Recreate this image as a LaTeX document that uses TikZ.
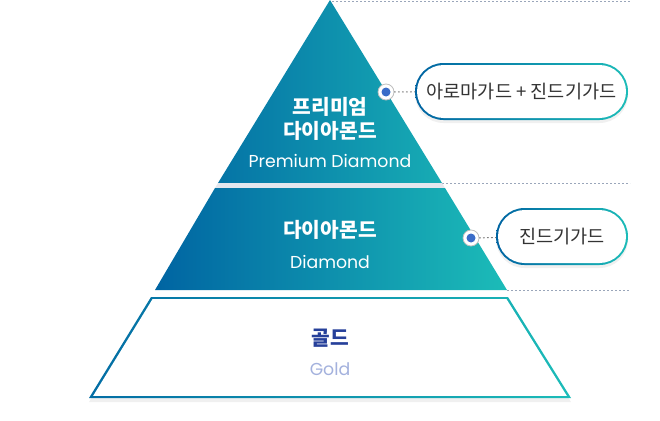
\documentclass[tikz,border=0pt]{standalone}
\usepackage{fontspec}
\newfontfamily\kr{Noto Sans CJK KR}
\newfontfamily\en{Poppins}
\usepackage{tikz}
\usetikzlibrary{
  positioning,
  calc,
  shadows
}
\definecolor{deepblue}{HTML}{0064A2}
\definecolor{aqua}{HTML}{1CBCB8}
\definecolor{topleft}{HTML}{0574A6}
\definecolor{topright}{HTML}{17ACB4}
\definecolor{guide}{HTML}{9AA6BA}
\definecolor{markblue}{HTML}{3A6CC8}
\definecolor{goldtxt}{HTML}{26409A}
\definecolor{goldsub}{HTML}{A3B1DD}
\definecolor{band}{HTML}{E4E7EE}

\begin{document}
\begin{tikzpicture}[
    x=1pt, y=-1pt,
    title/.style={font=\kr\bfseries\fontsize{20.3}{24}\selectfont, text=white,
                  align=center, inner sep=0pt},
    sub/.style={font=\en\fontsize{17.3}{20}\selectfont, text=white, inner sep=0pt},
    pill/.style={rectangle, rounded corners=28.5pt, minimum width=213pt,
                 minimum height=57pt, left color=deepblue, right color=aqua,
                 draw=none, text=black!80, font=\kr\fontsize{18.6}{22}\selectfont,
                 drop shadow={shadow xshift=0pt, shadow yshift=-3pt,
                              opacity=0.06, fill=black},
                 path picture={\fill[white, rounded corners=26.5pt]
                   ($(path picture bounding box.south west)+(2pt,2pt)$) rectangle
                   ($(path picture bounding box.north east)+(-2pt,-2pt)$);}},
    dotmark/.style={circle, fill=white, draw=black!25, line width=0.8pt,
                    minimum size=16pt, inner sep=0pt},
    link/.style={draw=black!55, line width=1pt, dash pattern=on 1pt off 3pt,
                 line cap=round},
    guideline/.style={draw=guide, line width=0.8pt, dash pattern=on 2pt off 2pt}
  ]
    \useasboundingbox (0,0) rectangle (660,420);
    % guides
    \coordinate (g0a) at (332,1);   \coordinate (g0b) at (630,1);
    \coordinate (g1a) at (442,183); \coordinate (g1b) at (630,183);
    \coordinate (g2a) at (507,290); \coordinate (g2b) at (630,290);
    \draw[guideline] (g0a) -- (g0b);
    \draw[guideline] (g1a) -- (g1b);
    \draw[guideline] (g2a) -- (g2b);
    % pyramid
    \shade[left color=topleft, right color=topright]
      (330,0) -- (442,183) -- (218,183) -- cycle;
    \fill[band] (218,183) -- (442,183) -- (445,188) -- (215,188) -- cycle;
    \shade[left color=deepblue, right color=aqua]
      (215,188) -- (445,188) -- (507,290) -- (155,290) -- cycle;
    \shade[left color=deepblue!90!aqua, right color=aqua,
           drop shadow={shadow xshift=0pt, shadow yshift=-4pt,
                        opacity=0.06, fill=black}]
      (89,398) -- (151,297) -- (508,297) -- (571,398) -- cycle;
    \fill[white] (93.2,395.8) -- (152.5,299.2) -- (506.5,299.2) -- (566.8,395.8) -- cycle;
    % labels
    \node[title] (premKo) at (330,119) {프리미엄\\다이아몬드};
    \node[sub]   (premEn) at (330,161) {Premium Diamond};
    \node[title] (diaKo)  at (330,230) {다이아몬드};
    \node[sub]   (diaEn)  at (330,262) {Diamond};
    \node[title, text=goldtxt] (goldKo) at (330,338) {골드};
    \node[sub, text=goldsub]   (goldEn) at (330,369) {Gold};
    % callouts
    \node[dotmark] (markA) at (386,92) {};
    \fill[markblue] (markA.center) circle (4.5pt);
    \node[dotmark] (markB) at (471,238) {};
    \fill[markblue] (markB.center) circle (4.5pt);
    \node[pill] (pillA) at (521.5,91.5) {아로마가드 + 진드기가드};
    \node[pill, minimum width=132pt] (pillB) at (562,236.5) {진드기가드};
    \draw[link] (markA) -- (pillA);
    \draw[link] (markB) -- (pillB);
\end{tikzpicture}
\end{document}
